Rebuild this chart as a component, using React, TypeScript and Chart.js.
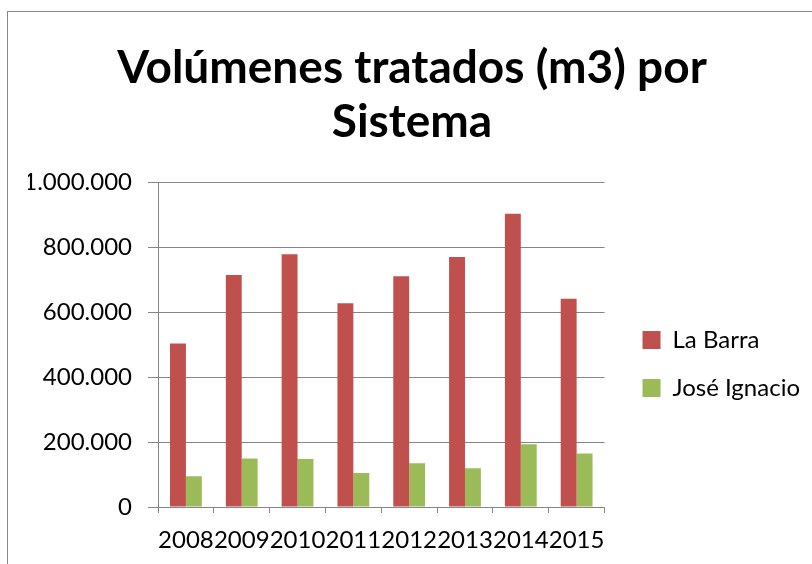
import React, { useEffect, useRef } from 'react';
import { Chart, registerables } from 'chart.js';

Chart.register(...registerables);

const years = ['2008', '2009', '2010', '2011', '2012', '2013', '2014', '2015'];
const laBarra = [503000, 714000, 778000, 627000, 710000, 769000, 902000, 641000];
const joseIgnacio = [95000, 149000, 148000, 105000, 135000, 119000, 193000, 165000];
const seriesNames = ['La Barra', 'José Ignacio'];
const titleLines = ['Volúmenes tratados (m3) por', 'Sistema'];
const yMin = 0;
const yMax = 1000000;
const yStep = 200000;

const FONT = 'Lato';

function fmt(v: number): string {
  return String(Math.round(v)).replace(/\B(?=(\d{3})+(?!\d))/g, '.');
}

const legendOffset = {
  id: 'legendOffset',
  afterUpdate(chart: any) {
    const l = chart.legend;
    if (l) {
      l.left += 14;
      l.right += 14;
    }
  },
};

export default function App() {
  const ref = useRef<HTMLCanvasElement | null>(null);

  useEffect(() => {
    if (!ref.current) return;
    const chart = new Chart(ref.current, {
      type: 'bar',
      data: {
        labels: years,
        datasets: [
          {
            label: seriesNames[0],
            data: laBarra,
            backgroundColor: '#C0504D',
            categoryPercentage: 0.57,
            barPercentage: 1.0,
          },
          {
            label: seriesNames[1],
            data: joseIgnacio,
            backgroundColor: '#9BBB59',
            categoryPercentage: 0.57,
            barPercentage: 1.0,
          },
        ],
      },
      plugins: [legendOffset],
      options: {
        responsive: false,
        animation: false,
        layout: { padding: { left: 28, right: 16, top: 0, bottom: 0 } },
        plugins: {
          title: {
            display: true,
            text: titleLines,
            color: '#000000',
            font: { family: FONT, size: 46, weight: 'bold', lineHeight: 1.174 },
            padding: { top: 41, bottom: 33 },
          },
          legend: {
            display: true,
            position: 'right',
            align: 'center',
            title: {
              display: true,
              text: '',
              font: { size: 1, lineHeight: 1 },
              padding: { top: 163, bottom: 0 },
            },
            labels: {
              color: '#000000',
              font: { family: FONT, size: 24 },
              boxWidth: 18,
              boxHeight: 18,
              padding: 24,
            },
          },
          tooltip: { enabled: false },
        },
        scales: {
          x: {
            offset: true,
            grid: {
              offset: true,
              drawOnChartArea: false,
              drawTicks: true,
              tickLength: 6,
              color: '#868686',
            },
            border: { display: true, color: '#868686' },
            ticks: {
              color: '#000000',
              font: { family: FONT, size: 24 },
              padding: 13,
              autoSkip: false,
              maxRotation: 0,
              minRotation: 0,
            },
            afterFit: (s: any) => {
              s.height = 57;
            },
          },
          y: {
            min: yMin,
            max: yMax,
            grid: {
              color: '#868686',
              tickLength: 10,
            },
            border: { display: true, color: '#868686' },
            ticks: {
              stepSize: yStep,
              color: '#000000',
              font: { family: FONT, size: 24 },
              padding: 16,
              callback: (v: any) => fmt(Number(v)),
            },
            afterFit: (s: any) => {
              s.width = 130;
            },
          },
        },
      },
    });
    return () => chart.destroy();
  }, []);

  return (
    <div
      style={{
        position: 'fixed',
        left: 0,
        top: 0,
        width: 812,
        height: 564,
        background: '#ffffff',
        overflow: 'hidden',
      }}
    >
      <div
        style={{
          position: 'absolute',
          left: 7,
          top: 11,
          width: 900,
          height: 700,
          border: '1px solid #8a8a8a',
          boxSizing: 'border-box',
        }}
      />
      <canvas
        ref={ref}
        width={812}
        height={564}
        style={{ position: 'absolute', left: 0, top: 0, width: 812, height: 564 }}
      />
    </div>
  );
}
